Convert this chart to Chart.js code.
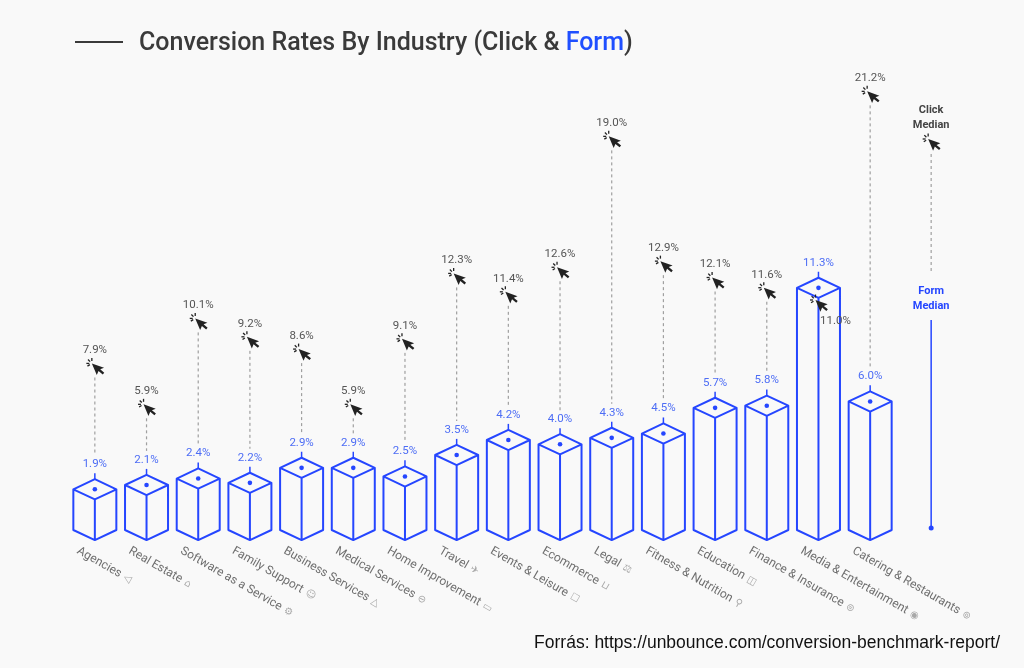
<!DOCTYPE html>
<html lang="en">
<head>
<meta charset="UTF-8">
<title>Conversion Rates By Industry</title>
<script src="https://cdn.jsdelivr.net/npm/chart.js"></script>
<style>
  body { margin: 0; background: #f9f9f9; }
  #wrap { position: relative; width: 1024px; height: 668px; }
  #rule { position: absolute; left: 75px; top: 41px; width: 48px; height: 2px; background: #3a3a3a; }
  #title { position: absolute; left: 139px; top: 27px; font: 500 25px Roboto, sans-serif; color: #3a3a3a; white-space: nowrap; }
  #title span { color: #1f4fff; }
  #source { position: absolute; right: 24px; top: 632px; font: 17.5px "Liberation Sans", Arial, sans-serif; color: #111; white-space: nowrap; }
  canvas { position: absolute; left: 0; top: 0; }
</style>
</head>
<body>
<div id="wrap">
  <canvas id="chart" width="1024" height="668"></canvas>
  <div id="rule"></div>
  <div id="title">Conversion Rates By Industry (Click &amp; <span>Form</span>)</div>
  <div id="source">Forrás: https://unbounce.com/conversion-benchmark-report/</div>
</div>
<script>
  const industries = ['Agencies', 'Real Estate', 'Software as a Service', 'Family Support', 'Business Services',
    'Medical Services', 'Home Improvement', 'Travel', 'Events & Leisure', 'Ecommerce', 'Legal',
    'Fitness & Nutrition', 'Education', 'Finance & Insurance', 'Media & Entertainment', 'Catering & Restaurants'];
  const formRates = [1.9, 2.1, 2.4, 2.2, 2.9, 2.9, 2.5, 3.5, 4.2, 4.0, 4.3, 4.5, 5.7, 5.8, 11.3, 6.0];
  const clickRates = [7.9, 5.9, 10.1, 9.2, 8.6, 5.9, 9.1, 12.3, 11.4, 12.6, 19.0, 12.9, 12.1, 11.6, 11.0, 21.2];
  // little grey glyphs after each industry name
  const icons = ['◁', '⌂', '⚙', '☺', '△', '⊖', '▭', '✈', '☐', '⊔', '⚖', '⚲', '◫', '⊜', '◉', '⊚'];

  const BLUE = '#2546ff';
  const LIGHT_BLUE = '#4d6df5';
  const GREY = '#555';

  // arrow cursor with small "click" rays, (x, y) is roughly its middle
  function drawCursor(ctx, x, y) {
    ctx.save();
    ctx.translate(x - 3, y - 5);
    ctx.strokeStyle = '#222';
    ctx.lineWidth = 1.3;
    [[-1, 0], [-0.7, -0.7], [0, -1], [-0.8, 0.5]].forEach(([dx, dy]) => {
      ctx.beginPath();
      ctx.moveTo(dx * 2.5, dy * 2.5);
      ctx.lineTo(dx * 5.5, dy * 5.5);
      ctx.stroke();
    });
    ctx.rotate(-0.4);
    ctx.scale(1.15, 1.15);
    ctx.fillStyle = '#222';
    ctx.beginPath();
    ctx.moveTo(0, 0);
    ctx.lineTo(0, 11);
    ctx.lineTo(2.8, 8.3);
    ctx.lineTo(5, 12.5);
    ctx.lineTo(6.8, 11.6);
    ctx.lineTo(4.7, 7.6);
    ctx.lineTo(8.3, 7.6);
    ctx.closePath();
    ctx.fill();
    ctx.restore();
  }

  const boxPlugin = {
    id: 'boxes',
    afterDatasetsDraw(chart) {
      const ctx = chart.ctx;
      const bars = chart.getDatasetMeta(0).data;
      const clicks = chart.getDatasetMeta(1).data;
      ctx.save();
      ctx.textAlign = 'center';
      ctx.textBaseline = 'middle';
      bars.forEach((bar, i) => {
        const c = bar.x, w = bar.width / 2, d = w * 0.47;
        const top = bar.y, bot = bar.base;
        const labelY = top - d - 15;
        const cy = clicks[i].y;

        // dashed link from click cursor down to form label
        if (clickRates[i] > formRates[i]) {
          ctx.save();
          ctx.strokeStyle = '#a0a0a0';
          ctx.lineWidth = 1.2;
          ctx.setLineDash([3, 3]);
          ctx.beginPath();
          ctx.moveTo(c, cy + 9);
          ctx.lineTo(c, labelY - 9);
          ctx.stroke();
          ctx.restore();
        }

        // isometric box
        ctx.strokeStyle = BLUE;
        ctx.lineWidth = 2;
        ctx.lineJoin = 'round';
        ctx.beginPath();
        ctx.moveTo(c, top - d); ctx.lineTo(c + w, top); ctx.lineTo(c, top + d); ctx.lineTo(c - w, top); ctx.closePath();
        ctx.moveTo(c - w, top); ctx.lineTo(c - w, bot); ctx.lineTo(c, bot + d); ctx.lineTo(c + w, bot); ctx.lineTo(c + w, top);
        ctx.moveTo(c, top + d); ctx.lineTo(c, bot + d);
        ctx.stroke();

        // tick and dot
        ctx.lineWidth = 1.5;
        ctx.beginPath();
        ctx.moveTo(c, top - d); ctx.lineTo(c, top - d - 6);
        ctx.stroke();
        ctx.fillStyle = BLUE;
        ctx.beginPath();
        ctx.arc(c, top, 2.3, 0, Math.PI * 2);
        ctx.fill();

        ctx.font = '11.5px Roboto, sans-serif';
        ctx.fillStyle = LIGHT_BLUE;
        ctx.fillText(formRates[i].toFixed(1) + '%', c, labelY);

        drawCursor(ctx, c, cy);
        ctx.fillStyle = GREY;
        if (clickRates[i] > formRates[i]) {
          ctx.fillText(clickRates[i].toFixed(1) + '%', c, cy - 18);
        } else {
          ctx.fillText(clickRates[i].toFixed(1) + '%', c + 17, cy + 16);
        }
      });

      // rotated category labels
      const xs = chart.scales.x;
      industries.forEach((name, i) => {
        const c = xs.getPixelForValue(i);
        ctx.save();
        ctx.translate(c - 14, 545);
        ctx.rotate(Math.PI / 6);
        ctx.textAlign = 'left';
        ctx.textBaseline = 'top';
        ctx.font = '12px Roboto, sans-serif';
        ctx.fillStyle = '#6e6e6e';
        ctx.fillText(name, 0, 0);
        const tw = ctx.measureText(name).width;
        ctx.font = '10px "DejaVu Sans", sans-serif';
        ctx.fillStyle = '#a8a8a8';
        ctx.fillText(icons[i], tw + 4, 1);
        ctx.restore();
      });

      // median legend on the right
      const mx = xs.getPixelForValue(industries.length - 1) + 61;
      ctx.font = 'bold 11px Roboto, sans-serif';
      ctx.fillStyle = '#444';
      ctx.fillText('Click', mx, 110);
      ctx.fillText('Median', mx, 125);
      drawCursor(ctx, mx, 144);
      ctx.save();
      ctx.strokeStyle = '#a0a0a0';
      ctx.lineWidth = 1.2;
      ctx.setLineDash([3, 3]);
      ctx.beginPath();
      ctx.moveTo(mx, 154); ctx.lineTo(mx, 273);
      ctx.stroke();
      ctx.restore();
      ctx.fillStyle = BLUE;
      ctx.fillText('Form', mx, 291);
      ctx.fillText('Median', mx, 306);
      ctx.strokeStyle = BLUE;
      ctx.lineWidth = 1.5;
      ctx.beginPath();
      ctx.moveTo(mx, 320); ctx.lineTo(mx, 528);
      ctx.stroke();
      ctx.beginPath();
      ctx.arc(mx, 528, 2.5, 0, Math.PI * 2);
      ctx.fill();
      ctx.restore();
    }
  };

  new Chart(document.getElementById('chart'), {
    type: 'bar',
    data: {
      labels: industries,
      datasets: [{
        label: 'Form',
        data: formRates,
        yAxisID: 'yForm',
        backgroundColor: 'rgba(0,0,0,0)',
        borderWidth: 0,
        categoryPercentage: 1,
        barPercentage: 0.832
      }, {
        type: 'line',
        label: 'Click',
        data: clickRates,
        yAxisID: 'yClick',
        showLine: false,
        pointRadius: 0
      }]
    },
    options: {
      responsive: false,
      animation: false,
      layout: { padding: { left: 69, right: 128, top: 80, bottom: 138 } },
      plugins: { legend: { display: false }, tooltip: { enabled: false } },
      scales: {
        x: { display: false },
        yForm: { display: false, min: 0, max: 21 },
        yClick: { display: false, min: 0, max: 22 }
      }
    },
    plugins: [boxPlugin]
  });
</script>
</body>
</html>
